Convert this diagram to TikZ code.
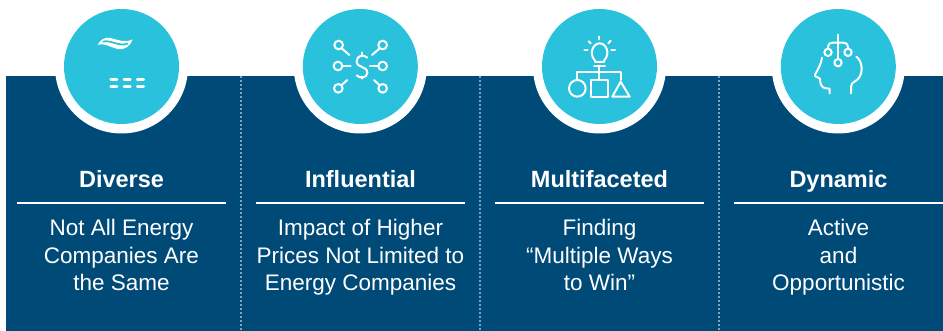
\documentclass[tikz,border=0pt]{standalone}
\usepackage{fontspec}
\setmainfont{Liberation Sans}
\definecolor{band}{HTML}{004A78}
\definecolor{disc}{HTML}{2AC1DC}
\tikzset{
  head/.style={text=white,font=\fontsize{23.5}{26}\selectfont\bfseries,anchor=base},
  body/.style={text=white,font=\fontsize{22.5}{26}\selectfont,anchor=base},
  sep/.style={white,line width=1.6pt,line cap=round,dash pattern=on 0pt off 4pt},
  hrule/.style={white,line width=1.3pt},
  ring/.style={fill=white,draw=none},
  disk/.style={fill=disc,draw=none},
  zoomed/.style={x=1pt/3,y=-1pt/3,line width=2pt,white,line cap=round,line join=round}
}
\begin{document}
\begin{tikzpicture}[x=1pt,y=-1pt]
\useasboundingbox (0,0) rectangle (943,331);
\fill[white] (0,0) rectangle (943,331);
\fill[band] (6,76) rectangle (943,331);
% separators
\foreach \sx in {241,480,719}{\draw[sep] (\sx,77) -- (\sx,331);}
% discs
\foreach \cx in {121.5,360.3,599.5,838.3}{
  \fill[ring] (\cx,67) circle[radius=66.5];
  \fill[disk] (\cx,66.5) circle[radius=57.5];
}
% rules
\foreach \rx in {17,256,495,734}{\draw[hrule] (\rx,203) -- ({\rx+209},203);}
% column 1
\node[head] (h1) at (121.5,188) {Diverse};
\node[body] (a1) at (121.5,235.6) {Not All Energy};
\node[body] (b1) at (121.5,263.4) {Companies Are};
\node[body] (c1) at (121.5,290.6) {the Same};
% column 2
\node[head] (h2) at (360.5,188) {Influential};
\node[body] (a2) at (360.5,235.6) {Impact of Higher};
\node[body] (b2) at (360.5,263.4) {Prices Not Limited to};
\node[body] (c2) at (360.5,290.6) {Energy Companies};
% column 3
\node[head] (h3) at (599.5,188) {Multifaceted};
\node[body] (a3) at (599.5,235.6) {Finding};
\node[body] (b3) at (599.5,263.4) {“Multiple Ways};
\node[body] (c3) at (599.5,290.6) {to Win”};
% column 4
\node[head] (h4) at (838.5,188) {Dynamic};
\node[body] (a4) at (838.5,235.6) {Active};
\node[body] (b4) at (838.5,263.4) {and};
\node[body] (c4) at (838.5,290.6) {Opportunistic};
% icon 1
\begin{scope}[shift={(40,0)},zoomed]
  \fill[white] (173,134) .. controls (182,118) and (196,110) .. (212,114) .. controls (232,119) and (255,130) .. (278,118) .. controls (272,138) and (252,152) .. (232,147) .. controls (212,142) and (192,128) .. (173,134) -- cycle;
  \draw[disc,line width=1.7pt] (190,125) .. controls (207,118) and (240,141) .. (262,131);
  \foreach \dy in {238,260}{
    \foreach \dx in {212,252,292}{\draw[line width=2.6pt] (\dx,\dy) -- ++(19,0);}
  }
\end{scope}
% icon 2
\begin{scope}[shift={(280,0)},zoomed]
  \draw (176,135) circle[radius=13]; \draw (186,146) -- (208,165);
  \draw (174,198) circle[radius=13]; \draw (188,198) -- (212,198);
  \draw (175,265) circle[radius=13]; \draw (185,255) -- (202,240);
  \draw (308,135) circle[radius=13]; \draw (298,146) -- (276,165);
  \draw (308,198) circle[radius=13]; \draw (294,198) -- (270,198);
  \draw (308,265) circle[radius=13]; \draw (298,255) -- (282,240);
  \draw (262,173) .. controls (252,163) and (230,165) .. (230,184) .. controls (230,205) and (262,197) .. (262,218) .. controls (262,235) and (238,236) .. (230,226);
  \draw (246,157) -- (246,168); \draw (246,230) -- (246,236);
\end{scope}
% icon 3
\begin{scope}[shift={(520,0)},zoomed]
  \draw (225,182) .. controls (205,160) and (220,130) .. (239,130) .. controls (258,130) and (273,160) .. (252,182) -- (252,186) -- (225,186) -- cycle;
  \draw (222,197) -- (255,197);
  \draw (238,110) -- (238,118);
  \draw (206,124) -- (212,130); \draw (272,122) -- (265,130);
  \draw (193,151) -- (203,151); \draw (274,151) -- (285,151);
  \draw (238,197) -- (238,238);
  \draw (172,240) -- (172,216) -- (302,216) -- (302,240);
  \draw (172,265) circle[radius=25];
  \draw (213,240) rectangle (265,290);
  \draw (302,245) -- (329,290) -- (277,290) -- cycle;
\end{scope}
% icon 4
\begin{scope}[shift={(760,0)},zoomed]
  \draw (234,104) -- (234,176);
  \draw (234,188) circle[radius=11];
  \draw (204,157) circle[radius=11];
  \draw (264,157) circle[radius=11];
  \draw (204,146) -- (204,140) .. controls (204,132) and (210,128) .. (218,128) -- (250,128) .. controls (258,128) and (264,132) .. (264,140) -- (264,146);
  \draw (186,173) .. controls (184,190) and (176,205) .. (165,224) -- (165,228) -- (180,236) .. controls (180,250) and (184,264) .. (198,265) -- (209,266) -- (209,280);
  \draw (289,170) .. controls (310,185) and (312,230) .. (285,244) .. controls (276,250) and (273,252) .. (273,262) -- (273,280);
\end{scope}
\end{tikzpicture}
\end{document}
